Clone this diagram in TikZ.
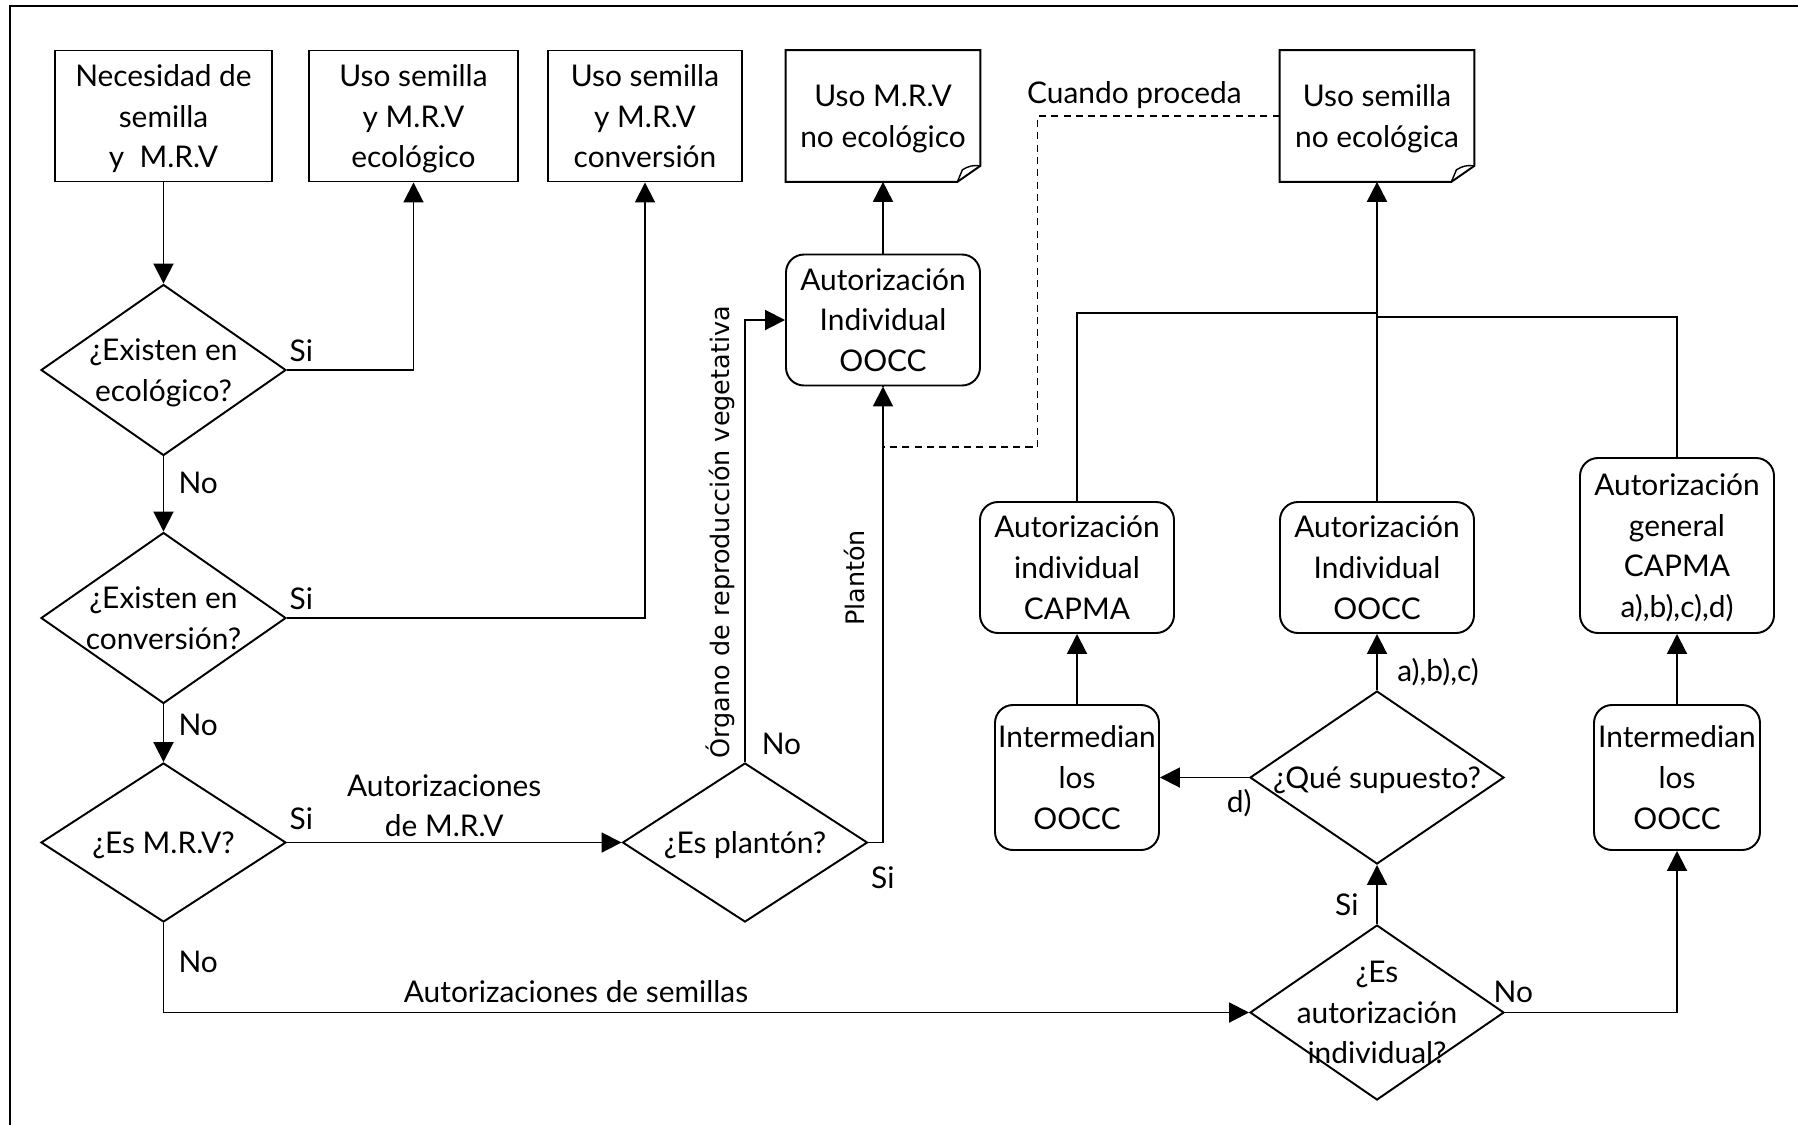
\documentclass[tikz,border=0pt]{standalone}
\usepackage{fontspec}
\setmainfont{Lato}
\newfontfamily\rotfont{DejaVu Sans}
\usepackage{tikz}
\usetikzlibrary{positioning, arrows.meta, shapes.geometric}

% outline of a box with a folded corner
\newcommand{\docframe}[1]{%
  \draw[line width=1.1pt] (#1.north west) -- (#1.north east) -- ([yshift=0.32cm]#1.south east)
    -- ([xshift=-0.46cm]#1.south east) -- (#1.south west) -- cycle;
  \draw[line width=0.8pt] ([xshift=-0.46cm]#1.south east) -- ([xshift=-0.36cm, yshift=0.24cm]#1.south east)
    to[bend left=20] ([yshift=0.32cm]#1.south east);
}

\begin{document}
\begin{tikzpicture}[
  font=\fontsize{17}{23.2}\selectfont,
  box/.style={rectangle, draw=black, line width=1.1pt, minimum width=3.88cm, minimum height=2.62cm, align=center, inner sep=1pt, text depth=0pt},
  docbox/.style={rectangle, minimum width=3.88cm, minimum height=2.62cm, align=center, inner sep=1pt, text depth=0pt},
  roundbox/.style={box, rounded corners=0.36cm},
  decision/.style={diamond, draw=black, line width=1.1pt, minimum width=4.9cm, minimum height=3.42cm, align=center, inner sep=-1.5cm, text depth=0pt},
  flow/.style={line width=1.1pt, -{Triangle[length=0.4cm, width=0.4cm]}},
  conn/.style={line width=1.1pt},
  dashline/.style={line width=0.8pt, dash pattern=on 4pt off 3pt},
  lbl/.style={inner sep=1pt, align=center},
  rotlbl/.style={font=\rotfont\fontsize{14.5}{17}\selectfont, rotate=90, anchor=south, inner sep=5.5pt},
  node distance=5cm, on grid]

\useasboundingbox (0,0) rectangle (35.96,-22.48);

% frame
\draw[line width=1.1pt] (0.2,-22.6) |- (36.1,-0.12);

% top row
\node[box, minimum width=4.34cm] (nec) at (3.27,-2.32) {Necesidad de\\semilla\\y~~M.R.V};
\node[box, minimum width=4.18cm, right=5cm of nec] (eco) {Uso semilla\\y M.R.V\\ecológico};
\node[box, right=4.63cm of eco] (conv) {Uso semilla\\y M.R.V\\conversión};
\node[docbox, right=4.76cm of conv] (noeco) {Uso M.R.V\\no ecológico};
\node[docbox, right=9.88cm of noeco] (noecoS) {Uso semilla\\no ecológica};
\docframe{noeco}
\docframe{noecoS}

% questions on the left
\node[decision, below=5.08cm of nec] (execo) {¿Existen en\\ecológico?};
\node[decision, below=4.96cm of execo] (exconv) {¿Existen en\\conversión?};
\node[decision, minimum height=3.18cm, below=4.49cm of exconv] (esmrv) {¿Es M.R.V?};
\node[decision, minimum height=3.18cm, right=11.63cm of esmrv] (esplanton) {¿Es plantón?};

% authorisation for M.R.V
\node[roundbox, below=4.08cm of noeco] (aind1) {Autorización\\Individual\\OOCC};

% authorisations for seeds
\node[roundbox, below=9.03cm of noecoS] (aindoo) {Autorización\\Individual\\OOCC};
\node[roundbox, left=6cm of aindoo] (aindcap) {Autorización\\individual\\CAPMA};
\node[roundbox, minimum height=3.5cm, right=6cm of aindoo, yshift=0.44cm] (agen) {Autorización\\general\\CAPMA\\a),b),c),d)};
\node[decision, minimum width=5.08cm, minimum height=3.46cm, below=4.2cm of aindoo] (quesup) {¿Qué supuesto?};
\node[roundbox, minimum width=3.28cm, minimum height=2.9cm, below=4.2cm of aindcap] (inter1) {Intermedian\\los\\OOCC};
\node[roundbox, minimum width=3.32cm, minimum height=2.9cm, right=6cm of quesup] (inter2) {Intermedian\\los\\OOCC};
\node[decision, minimum width=5.08cm, minimum height=3.5cm, below=4.7cm of quesup] (esind) {¿Es\\autorización\\individual?};

% bends
\coordinate[above=3.76cm of aindoo.north] (joinL);
\coordinate[above=3.68cm of aindoo.north] (joinR);
\coordinate[below=6.62cm of noecoS.west, xshift=-4.84cm] (dashc);

% connectors on the left
\draw[flow] (nec.south) -- (execo.north);
\draw[flow] (execo.east) node[lbl, above right=3pt and 0pt] {Si} -| (eco.south);
\draw[flow] (execo.south) -- node[lbl, pos=0.35, right=7pt] {No} (exconv.north);
\draw[flow] (exconv.east) node[lbl, above right=3pt and 0pt] {Si} -| (conv.south);
\draw[flow] (exconv.south) -- node[lbl, pos=0.35, right=7pt] {No} (esmrv.north);
\draw[flow] (esmrv.east) node[lbl, above right=6pt and 0pt] {Si} -- node[lbl, pos=0.47, above=1.5pt] {Autorizaciones\\de M.R.V} (esplanton.west);
\draw[flow] (esmrv.south) |- node[lbl, pos=0.22, right=7pt] {No} node[lbl, pos=0.69, above=4pt] {Autorizaciones de semillas} (esind.west);

% plantón or not
\draw[flow] (esplanton.north) |- node[lbl, pos=0.02, right=8pt] {No} node[rotlbl, pos=0.26] {Órgano de reproducción vegetativa} (aind1.west);
\draw[flow] (esplanton.east) node[lbl, below right=12pt and 0pt] {Si} -| node[rotlbl, pos=0.79, inner sep=10pt] {Plantón} (aind1.south);
\draw[flow] (aind1.north) -- (noeco.south);
\draw[dashline] (noecoS.west) -| node[lbl, pos=0.3, above=3pt] {Cuando proceda} (dashc) -| (aind1.south);

% connectors on the right
\draw[flow] (aindoo.north) -- (noecoS.south);
\draw[conn] (aindcap.north) |- (joinL);
\draw[conn] (agen.north) |- (joinR);
\draw[flow] (inter1.north) -- (aindcap.south);
\draw[flow] (quesup.north) -- node[lbl, pos=0.32, right=10pt] {a),b),c)} (aindoo.south);
\draw[flow] (quesup.west) node[lbl, below left=5pt and -3pt] {d)} -- (inter1.east);
\draw[flow] (esind.north) -- node[lbl, pos=0.33, left=9pt] {Si} (quesup.south);
\draw[flow] (esind.east) node[lbl, above right=4pt and -8pt] {No} -| (inter2.south);
\draw[flow] (inter2.north) -- (agen.south);

\end{tikzpicture}
\end{document}
